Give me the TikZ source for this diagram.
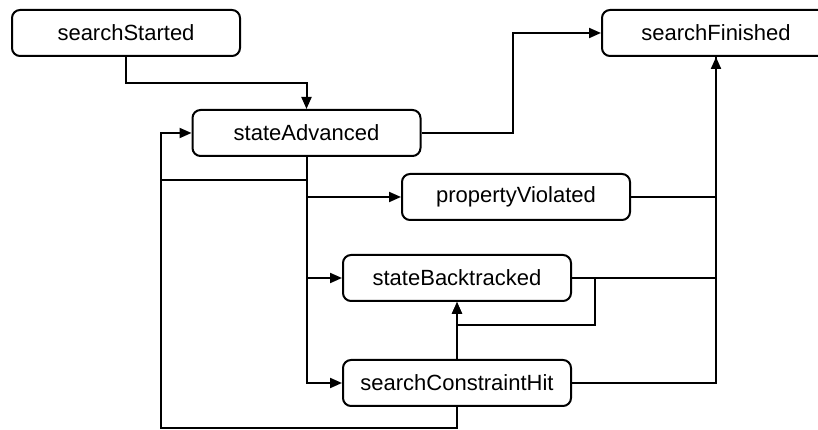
\documentclass[tikz,border=0pt]{standalone}
\usepackage{fontspec}
\setmainfont{Liberation Sans}
\usetikzlibrary{arrows.meta}
\tikzset{
  event/.style={draw, line width=2pt, rounded corners=8pt, minimum width=228pt,
    minimum height=46pt, inner sep=0pt, font=\fontsize{22}{26}\selectfont},
  flow/.style={line width=2pt, -{Triangle[length=12pt,width=10pt]}},
  wire/.style={line width=2pt}
}
\begin{document}
\begin{tikzpicture}[x=1pt,y=1pt]
    \useasboundingbox (0,0) rectangle (818,430);
    \clip (0,0) rectangle (818,430);
    %% events
    \node[event] (started)     at (126,397) {searchStarted};
    \node[event] (advanced)    at (306.5,297) {stateAdvanced};
    \node[event] (finished)    at (716,397) {searchFinished};
    \node[event] (violated)    at (516,233) {propertyViolated};
    \node[event] (backtracked) at (457,152) {stateBacktracked};
    \node[event] (constraint)  at (457,47) {searchConstraintHit};
    %% helper points
    \coordinate (loopL) at (161,250);
    \coordinate (loopB) at (161,2);
    %% start
    \draw[flow] (started.south) -- ++(0,-26) -| (advanced.north);
    \draw[flow] (advanced.east) -- ++(91,0) |- (finished.west);
    %% stateAdvanced loop and branches
    \draw[flow] (advanced.south) |- (loopL) |- (advanced.west);
    \draw[flow] (advanced.south) |- (violated.west);
    \draw[flow] (advanced.south) |- (backtracked.west);
    \draw[flow] (advanced.south) |- (constraint.west);
    %% to searchFinished
    \draw[flow] (violated.east) -| (finished.south);
    \draw[wire] (backtracked.east) -| (finished.south);
    \draw[wire] (constraint.east) -| (finished.south);
    %% backtrack loops
    \draw[flow] (backtracked.east) -- ++(23,0) |- ([yshift=-23pt]backtracked.south) -- (backtracked.south);
    \draw[flow] (constraint.north) -- (backtracked.south);
    \draw[wire] (constraint.south) |- (loopB) -- (loopL);
\end{tikzpicture}
\end{document}
